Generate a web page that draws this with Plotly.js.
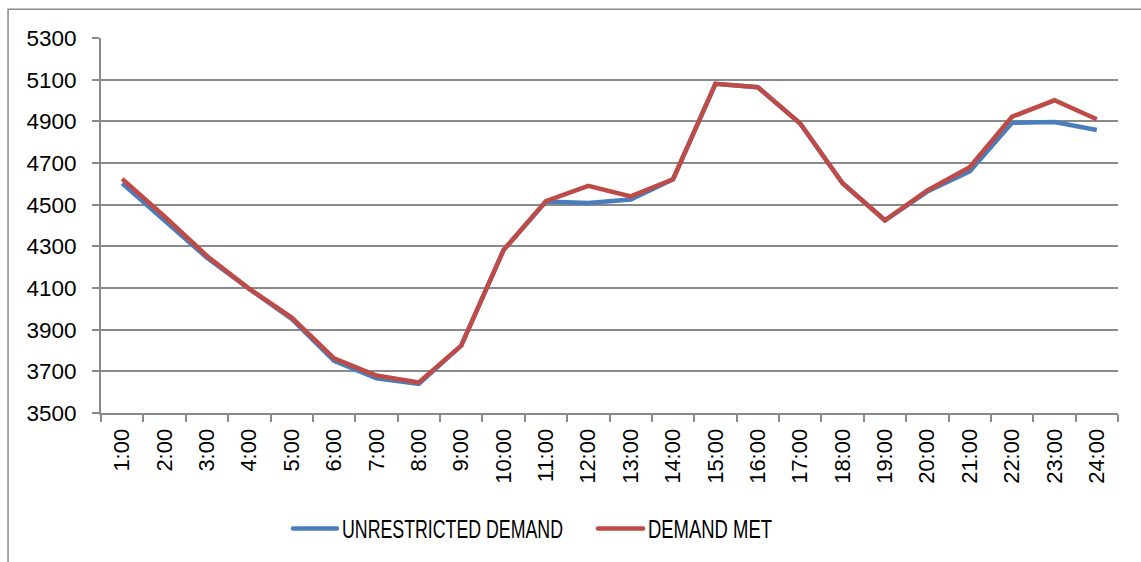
<!DOCTYPE html>
<html>
<head>
<meta charset="utf-8">
<script src="https://cdn.plot.ly/plotly-3.0.1.min.js"></script>
<style>
html,body{margin:0;padding:0;background:#fff;}
#chart{width:1141px;height:562px;}
</style>
</head>
<body>
<div id="chart"></div>
<script>
var hours = ["1:00","2:00","3:00","4:00","5:00","6:00","7:00","8:00","9:00","10:00","11:00","12:00",
             "13:00","14:00","15:00","16:00","17:00","18:00","19:00","20:00","21:00","22:00","23:00","24:00"];
var unrestrictedDemand = [4602,4425,4245,4095,3952,3750,3667,3640,3823,4282,4515,4508,4525,4622,5080,5064,4890,4603,4425,4563,4660,4893,4897,4858];
var demandMet          = [4624,4443,4254,4096,3958,3762,3680,3647,3823,4282,4517,4590,4540,4622,5080,5064,4890,4603,4425,4568,4680,4922,5001,4910];
var yTicks = [3500,3700,3900,4100,4300,4500,4700,4900,5100,5300];

var traces = [
  {x: hours, y: unrestrictedDemand, type: 'scatter', mode: 'lines', name: 'UNRESTRICTED DEMAND',
   line: {color: '#4A7EBB', width: 4.5}},
  {x: hours, y: demandMet, type: 'scatter', mode: 'lines', name: 'DEMAND MET',
   line: {color: '#BE4B48', width: 4.5}}
];

var layout = {
  width: 1141, height: 562,
  margin: {l: 101, r: 23, t: 38, b: 148},
  paper_bgcolor: '#fff', plot_bgcolor: '#fff',
  font: {family: 'Liberation Sans, Arial, sans-serif', size: 22, color: '#000'},
  showlegend: true,
  legend: {orientation: 'h', x: 0.178, xanchor: 'left', y: -0.305, yanchor: 'middle',
           font: {family: 'Liberation Sans Narrow, Arial Narrow, Liberation Sans, sans-serif', size: 25, color: '#000'},
           itemwidth: 30, bgcolor: 'rgba(0,0,0,0)'},
  xaxis: {type: 'category', tickangle: -90, showgrid: false, showline: true, linecolor: '#8a8a8a', linewidth: 2,
          ticks: 'outside', ticklen: 7, tickcolor: '#8a8a8a', tickwidth: 2, tickson: 'boundaries',
          ticklabelstandoff: 5, tickfont: {size: 22}, fixedrange: true, range: [-0.5, 23.5]},
  yaxis: {range: [3500, 5300], tickvals: yTicks, ticktext: yTicks.map(String), showgrid: true, gridcolor: '#8a8a8a', gridwidth: 2,
          showline: true, linecolor: '#8a8a8a', linewidth: 2, ticks: 'outside', ticklen: 7, tickcolor: '#8a8a8a', tickwidth: 2,
          ticklabelstandoff: 11, zeroline: false, tickfont: {size: 22.5}, fixedrange: true},
  shapes: [
    {type: 'rect', xref: 'paper', yref: 'paper', x0: -0.0914, x1: 1.1, y0: -0.5, y1: 1.077,
     line: {color: '#8a8a8a', width: 1.5}, fillcolor: 'rgba(0,0,0,0)', layer: 'below'}
  ]
};

// legend geometry of the reference (absolute px): line start, line length, gap, text length
var legendLayout = [
  {lineX: 293, lineLen: 44, gap: 5, textLen: 221},
  {lineX: 598, lineLen: 45, gap: 5, textLen: 124}
];

Plotly.newPlot('chart', traces, layout, {displayModeBar: false, staticPlot: true}).then(function (gd) {
  var leg = gd.querySelector('g.legend');
  if (!leg) return;
  var m = /translate\(\s*([-\d.]+)[ ,]+([-\d.]+)/.exec(leg.getAttribute('transform') || '');
  var lx = m ? parseFloat(m[1]) : 0;
  var scroll = leg.querySelector('.scrollbox');
  if (scroll) scroll.removeAttribute('clip-path');
  var items = leg.querySelectorAll('g.traces');
  items.forEach(function (it, i) {
    var cfg = legendLayout[i];
    if (!cfg) return;
    var tm = /translate\(\s*([-\d.]+)[ ,]+([-\d.]+)/.exec(it.getAttribute('transform') || '');
    var ty = tm ? parseFloat(tm[2]) : 0;
    it.setAttribute('transform', 'translate(' + (cfg.lineX - lx) + ',' + ty + ')');
    var p = it.querySelector('path.js-line');
    if (p) { p.setAttribute('d', 'M0,0h' + cfg.lineLen); p.style.strokeLinecap = 'round'; }
    var t = it.querySelector('text.legendtext');
    if (t) {
      t.setAttribute('x', cfg.lineLen + cfg.gap);
      t.setAttribute('textLength', cfg.textLen);
      t.setAttribute('lengthAdjust', 'spacingAndGlyphs');
    }
  });
});
</script>
</body>
</html>
